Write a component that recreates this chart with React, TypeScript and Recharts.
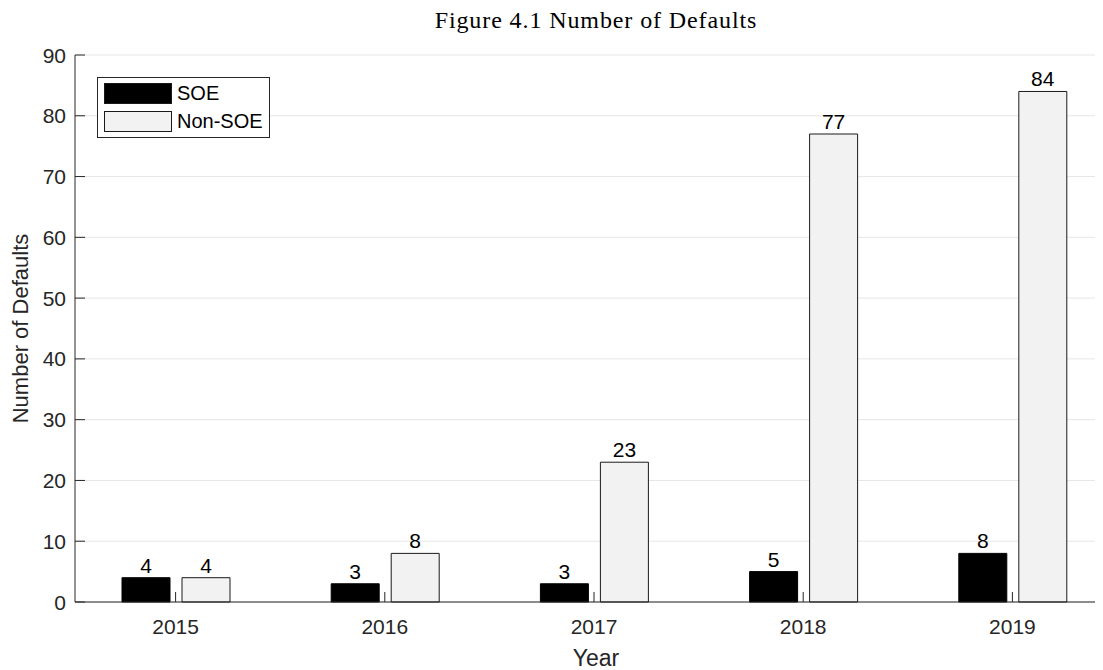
import React from "react";
import {
  BarChart,
  Bar,
  XAxis,
  YAxis,
  CartesianGrid,
  LabelList,
  Legend,
} from "recharts";

const years = ["2015", "2016", "2017", "2018", "2019"];
const soeDefaults = [4, 3, 3, 5, 8];
const nonSoeDefaults = [4, 8, 23, 77, 84];
const yTicks = [0, 10, 20, 30, 40, 50, 60, 70, 80, 90];

const data = years.map((year, i) => ({
  year,
  soe: soeDefaults[i],
  nonSoe: nonSoeDefaults[i],
}));

const AXIS = "#262626";
const SANS = "'Liberation Sans', Arial, sans-serif";

const BottomTick = (props: any) => {
  const { x, y, payload } = props;
  return (
    <g>
      <line x1={x} x2={x} y1={y} y2={y - 10} stroke={AXIS} />
      <text x={x} y={y + 32} textAnchor="middle" fontSize={21} fill={AXIS} fontFamily={SANS}>
        {payload.value}
      </text>
    </g>
  );
};

const TopTick = (props: any) => {
  const { x, y } = props;
  return <line x1={x} x2={x} y1={y} y2={y + 10} stroke={AXIS} />;
};

const LeftTick = (props: any) => {
  const { x, y, payload } = props;
  return (
    <g>
      <line x1={x} x2={x + 10} y1={y} y2={y} stroke={AXIS} />
      <text x={x - 9} y={y} dy="0.36em" textAnchor="end" fontSize={21} fill={AXIS} fontFamily={SANS}>
        {payload.value}
      </text>
    </g>
  );
};

const YLabel = (props: any) => {
  const { viewBox } = props;
  const cx = 12;
  const cy = viewBox.y + viewBox.height / 2;
  return (
    <text
      x={cx}
      y={cy}
      transform={`rotate(-90 ${cx} ${cy})`}
      textAnchor="middle"
      dy="0.36em"
      fontSize={22}
      fill={AXIS}
      fontFamily={SANS}
    >
      Number of Defaults
    </text>
  );
};

const XLabel = (props: any) => {
  const { viewBox } = props;
  const cx = viewBox.x + viewBox.width / 2;
  return (
    <text x={cx} y={658} textAnchor="middle" fontSize={23} fill={AXIS} fontFamily={SANS}>
      Year
    </text>
  );
};

const legendItems = [
  { name: "SOE", fill: "#000000" },
  { name: "Non-SOE", fill: "#f2f2f2" },
];

const LegendBox = () => (
  <div
    style={{
      width: 171,
      height: 59,
      border: `1px solid ${AXIS}`,
      background: "#fff",
      position: "relative",
      fontFamily: SANS,
      fontSize: 20,
      color: "#000",
    }}
  >
    {legendItems.map((item, i) => (
      <div key={item.name} style={{ position: "absolute", left: 6, top: 5 + i * 28, display: "flex", alignItems: "center" }}>
        <div style={{ width: 66, height: 19, background: item.fill, border: "1px solid #1a1a1a" }} />
        <span style={{ marginLeft: 5, lineHeight: "21px" }}>{item.name}</span>
      </div>
    ))}
  </div>
);

export default function App() {
  return (
    <div style={{ width: 1095, height: 662, overflow: "hidden", position: "relative" }}>
      <div
        style={{
          position: "absolute",
          left: 0,
          top: 0,
          width: 1176,
          textAlign: "center",
          fontFamily: "'Liberation Serif', 'DejaVu Serif', serif",
          fontSize: 24,
          letterSpacing: 0.9,
          lineHeight: "24px",
          color: "#000",
        }}
      >
        Figure 4.1 Number of Defaults
      </div>
      <BarChart
        width={1130}
        height={662}
        data={data}
        margin={{ top: 47, right: 21, bottom: 0, left: 0 }}
        barSize={48}
        barGap={12}
      >
        <CartesianGrid vertical={false} horizontal stroke="#e6e6e6" />
        <XAxis
          dataKey="year"
          height={68}
          padding={{ left: -4, right: 0 }}
          stroke={AXIS}
          tickLine={false}
          tickSize={0}
          tickMargin={0}
          tick={<BottomTick />}
          label={<XLabel />}
        />
        <XAxis
          xAxisId="top"
          dataKey="year"
          orientation="top"
          height={0}
          padding={{ left: -4, right: 0 }}
          stroke={AXIS}
          tickLine={false}
          tickSize={0}
          tickMargin={0}
          tick={<TopTick />}
        />
        <YAxis
          width={67}
          domain={[0, 90]}
          ticks={yTicks}
          interval={0}
          stroke={AXIS}
          tickLine={false}
          tickSize={0}
          tickMargin={0}
          tick={<LeftTick />}
          label={<YLabel />}
        />
        <Legend
          layout="vertical"
          align="center"
          verticalAlign="middle"
          content={<LegendBox />}
          wrapperStyle={{ position: "absolute", left: 89, top: 69, width: "auto", height: "auto" }}
        />
        <Bar dataKey="soe" name="SOE" fill="#000000" stroke="#000000" isAnimationActive={false}>
          <LabelList dataKey="soe" position="top" offset={5} fill="#000" fontSize={21} fontFamily={SANS} />
        </Bar>
        <Bar dataKey="nonSoe" name="Non-SOE" fill="#f2f2f2" stroke="#1a1a1a" isAnimationActive={false}>
          <LabelList dataKey="nonSoe" position="top" offset={5} fill="#000" fontSize={21} fontFamily={SANS} />
        </Bar>
      </BarChart>
    </div>
  );
}
